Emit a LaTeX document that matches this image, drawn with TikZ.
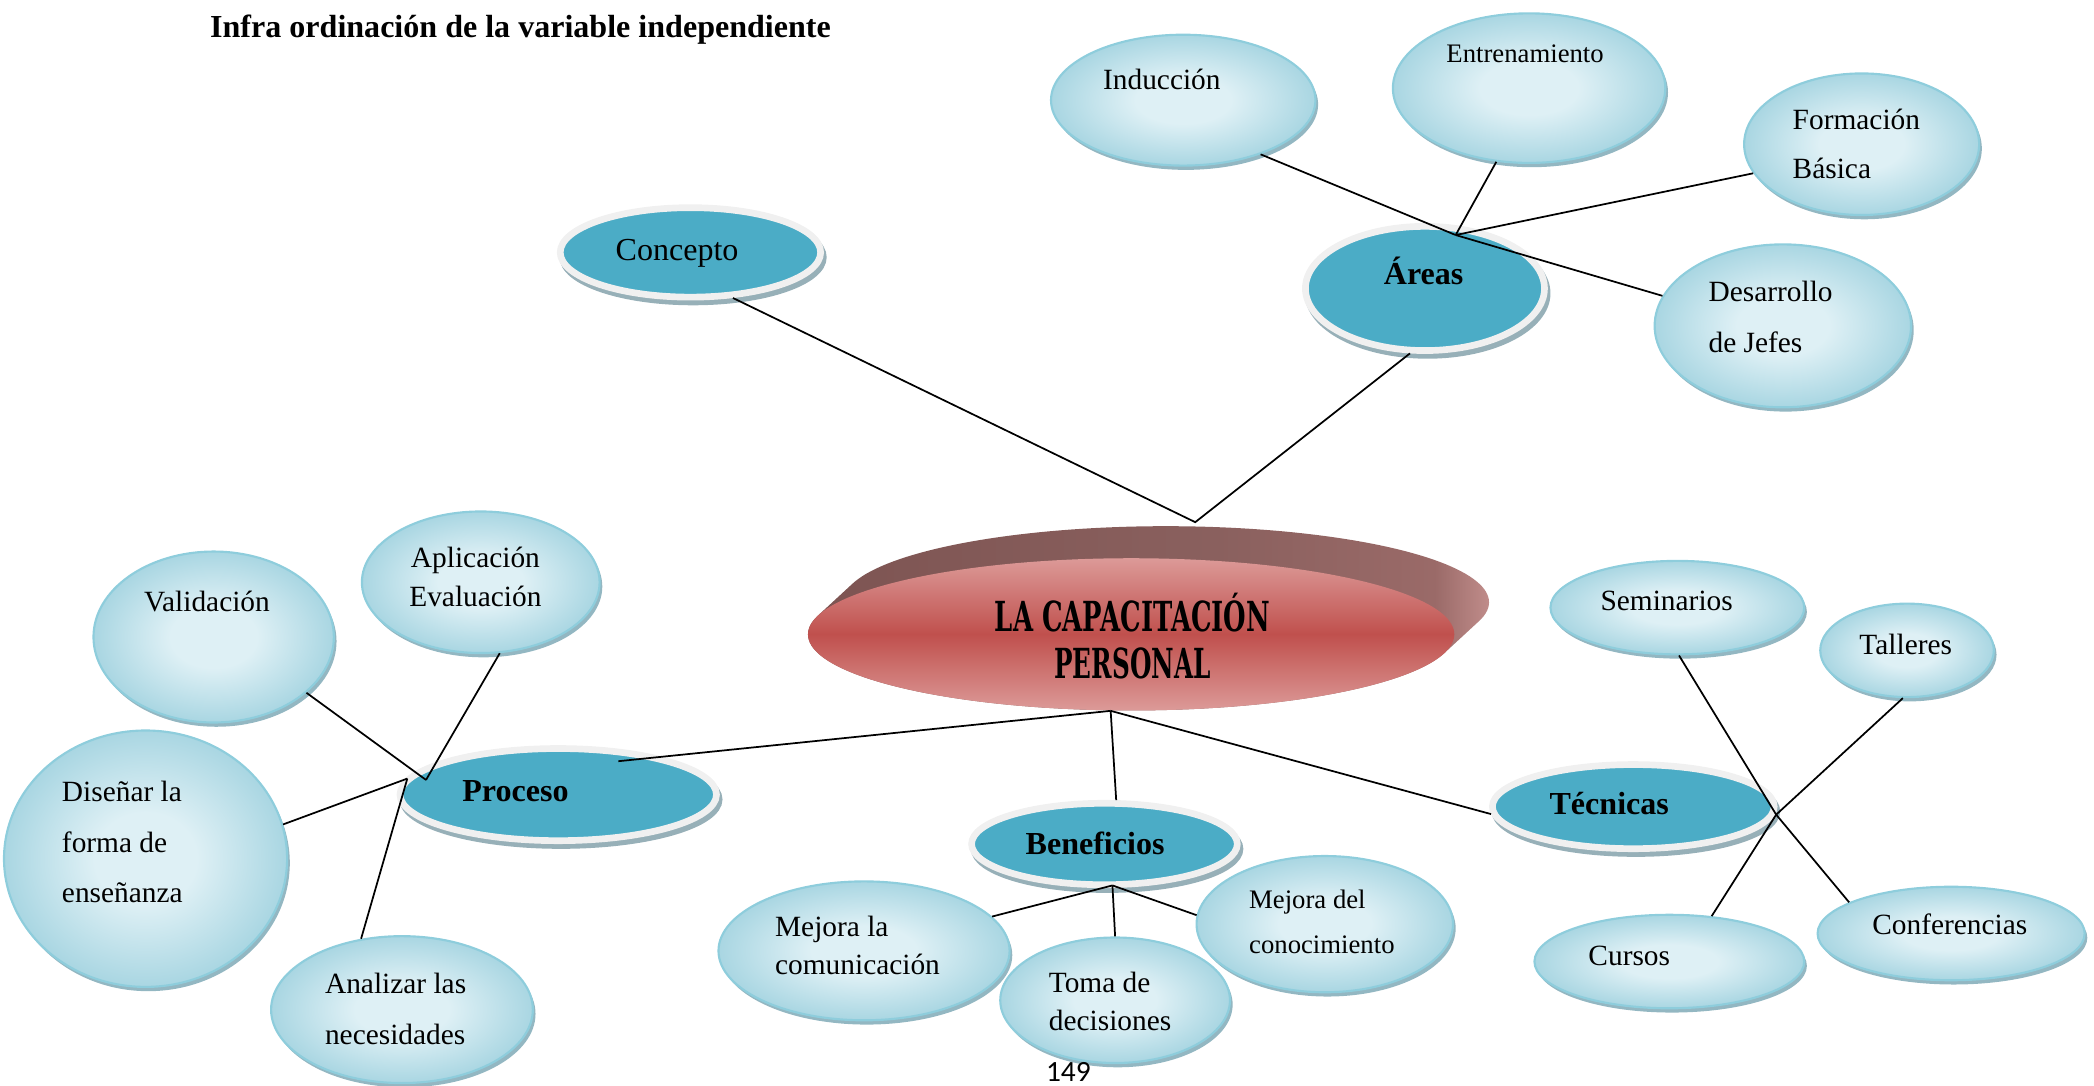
\documentclass[tikz,border=0pt]{standalone}
\usepackage{fontspec}
\setmainfont{Liberation Serif}
\newfontfamily\numfont{Carlito}
\newfontfamily\discfont{DejaVu Serif}
\usetikzlibrary{shapes.geometric}

\definecolor{lbin}{HTML}{DEF0F5}
\definecolor{lbout}{HTML}{A9D6E2}
\definecolor{lbline}{HTML}{8ECDDC}
\definecolor{lbshadow}{HTML}{93B7C2}
\definecolor{catblue}{HTML}{4BACC6}
\definecolor{catrim}{HTML}{F0F0F0}
\definecolor{catshadow}{HTML}{97B0B8}
\definecolor{bandleft}{HTML}{7D5452}
\definecolor{bandmid}{HTML}{8A605E}
\definecolor{bandlate}{HTML}{9A6A68}
\definecolor{bandright}{HTML}{C08C8A}
\definecolor{discedge}{HTML}{DC9A98}
\definecolor{disccore}{HTML}{C0504D}

\pgfdeclareradialshading{bubbleshade}{\pgfpoint{0bp}{0bp}}{color(0bp)=(lbin); color(9bp)=(lbin); color(25bp)=(lbout); color(50bp)=(lbout)}
\pgfdeclarehorizontalshading{bandshade}{100bp}{color(0bp)=(bandleft); color(25bp)=(bandleft); color(55bp)=(bandmid); color(71bp)=(bandlate); color(75bp)=(bandright); color(100bp)=(bandright)}

\tikzset{
  bubble/.style 2 args={ellipse, inner sep=0pt, minimum width=#1pt, minimum height=#2pt,
    shade, shading=bubbleshade, draw=lbline, line width=0.8pt,
    preaction={fill=lbshadow, transform canvas={shift={(1pt,-1.6pt)}}}},
  cat/.style 2 args={ellipse, inner sep=0pt, minimum width=#1pt, minimum height=#2pt,
    fill=catblue, draw=catrim, line width=2.5pt,
    preaction={fill=catshadow, draw=catshadow, line width=2.5pt, transform canvas={shift={(1pt,-1.8pt)}}}},
  link/.style={draw=black, line width=0.65pt},
  lbl/.style={inner sep=0pt, font=\fontsize{11}{13}\selectfont},
  lblsmall/.style={inner sep=0pt, font=\fontsize{10}{12}\selectfont},
  catlbl/.style={inner sep=0pt, font=\fontsize{12}{14}\selectfont\bfseries},
  titlelbl/.style={inner sep=0pt, font=\fontsize{12}{14}\selectfont\bfseries},
  disclbl/.style={inner sep=0pt, font=\discfont\fontsize{15.5}{18}\selectfont\bfseries}
}

\begin{document}
\begin{tikzpicture}[x=0.5pt, y=-0.5pt]
\useasboundingbox (0,0) rectangle (1568,813);

% heading
\node[titlelbl, anchor=base west] (title) at (157,28) {Infra ordinación de la variable independiente};

% light bubbles
\node[bubble={99}{49}]  (ind)  at (886,75)   {};
\node[bubble={102}{56}] (ent)  at (1145,66)  {};
\node[bubble={88}{53}]  (for)  at (1394,108) {};
\node[bubble={96}{61}]  (des)  at (1335,244) {};
\node[bubble={90}{64}]  (val)  at (160,477)  {};
\node[bubble={89}{53}]  (apl)  at (360,436)  {};
\node[bubble={106}{96}] (dis)  at (109,643)  {};
\node[bubble={98}{55}]  (ana)  at (301,756)  {};
\node[bubble={109}{52}] (mcom) at (647,712)  {};
\node[bubble={86}{47}]  (tom)  at (835,749)  {};
\node[bubble={96}{51}]  (mcon) at (992,692)  {};
\node[bubble={95}{35}]  (sem)  at (1256,455) {};
\node[bubble={65}{35}]  (tal)  at (1428,487) {};
\node[bubble={100}{35}] (conf) at (1461,699) {};
\node[bubble={101}{35}] (cur)  at (1250,720) {};

% category ellipses
\node[cat={97.5}{33.5}]  (con) at (517,189)  {};
\node[cat={89.5}{46.5}]  (are) at (1067,216) {};
\node[cat={118.5}{34.5}] (pro) at (418,595)  {};
\node[cat={99.5}{30.5}]  (ben) at (827,632)  {};
\node[cat={105.5}{31.5}] (tec) at (1223,604) {};

% central disc: extruded band, then the face
\shade[shading=bandshade]
  plot[domain=165.68:-14.32, samples=90, variable=\t] ({873+242*cos(\t)}, {451-57*sin(\t)})
  -- plot[domain=-14.32:-194.32, samples=90, variable=\t] ({847+242*cos(\t)}, {475-57*sin(\t)})
  -- cycle;
\node[ellipse, inner sep=0pt, minimum width=242pt, minimum height=57pt,
      top color=discedge, bottom color=discedge, middle color=disccore] (cap) at (847,475) {};

% junction points
\coordinate (ct)  at (895,391);
\coordinate (cb)  at (cap.-105);
\coordinate (ja)  at (1090,176);
\coordinate (pin) at (463,570);
\coordinate (jp1) at (319,584);
\coordinate (jp2) at (305,583);
\coordinate (jb)  at (833,663);
\coordinate (jt)  at (1330,610);

% connectors
\draw[link] (con.-47) -- (ct) -- (are.-103);
\draw[link] (ind.-35) -- (ja);
\draw[link] (ent.-114) -- (ja);
\draw[link] (for.-165) -- (ja);
\draw[link] (ja) -- (des.166);
\draw[link] (cb) -- (pin);
\draw[link] (cb) -- (ben.75);
\draw[link] (cb) -- (tec.-177);
\draw[link] (val.-31) -- (jp1);
\draw[link] (apl.-75) -- (jp1);
\draw[link] (dis.14) -- (jp2);
\draw[link] (ana.120) -- (jp2);
\draw[link] (jb) -- (mcom.15);
\draw[link] (jb) -- (tom.90);
\draw[link] (jb) -- (mcon.176);
\draw[link] (sem.-88) -- (jt) -- (conf.163);
\draw[link] (tal.-95) -- (jt) -- (cur.47);

% central text
\node[disclbl, anchor=base] (capA) at (848,473) {\resizebox{103pt}{\height}{LA CAPACITACIÓN}};
\node[disclbl, anchor=base] (capB) at (848,508) {\resizebox{58.5pt}{\height}{PERSONAL}};

% category labels
\node[inner sep=0pt, font=\fontsize{12}{14}\selectfont, anchor=base] (conT) at (507,195) {Concepto};
\node[catlbl, anchor=base] (areT) at (1066,213) {Áreas};
\node[catlbl, anchor=base] (proT) at (386,600)  {Proceso};
\node[catlbl, anchor=base] (benT) at (820,640)  {Beneficios};
\node[catlbl, anchor=base] (tecT) at (1205,610) {Técnicas};

% bubble labels
\node[lbl, anchor=base] (indT) at (870,67) {Inducción};
\node[lblsmall, anchor=base] (entT) at (1142,47) {Entrenamiento};
\node[lbl, anchor=base west] (forT1) at (1342,97)  {Formación};
\node[lbl, anchor=base west] (forT2) at (1342,134) {Básica};
\node[lbl, anchor=base west] (desT1) at (1279,226) {Desarrollo};
\node[lbl, anchor=base west] (desT2) at (1279,264) {de Jefes};
\node[lbl, anchor=base] (valT) at (155,458) {Validación};
\node[lbl, anchor=base] (aplT1) at (356,425) {Aplicación};
\node[lbl, anchor=base] (aplT2) at (356,454) {Evaluación};
\node[lbl, anchor=base west] (disT1) at (46,600) {Diseñar la};
\node[lbl, anchor=base west] (disT2) at (46,638) {forma de};
\node[lbl, anchor=base west] (disT3) at (46,676) {enseñanza};
\node[lbl, anchor=base west] (anaT1) at (243,744) {Analizar las};
\node[lbl, anchor=base west] (anaT2) at (243,782) {necesidades};
\node[lbl, anchor=base west] (mcomT1) at (580,701) {Mejora la};
\node[lbl, anchor=base west] (mcomT2) at (580,730) {comunicación};
\node[lbl, anchor=base west] (tomT1) at (785,743) {Toma de};
\node[lbl, anchor=base west] (tomT2) at (785,772) {decisiones};
\node[lblsmall, anchor=base west] (mconT1) at (935,680) {Mejora del};
\node[lblsmall, anchor=base west] (mconT2) at (935,714) {conocimiento};
\node[lbl, anchor=base] (semT)  at (1248,457) {Seminarios};
\node[lbl, anchor=base] (talT)  at (1427,490) {Talleres};
\node[lbl, anchor=base] (confT) at (1460,700) {Conferencias};
\node[lbl, anchor=base] (curT)  at (1220,723) {Cursos};

% page number
\node[inner sep=0pt, font=\numfont\fontsize{11}{13}\selectfont, anchor=base] (page) at (800,810) {149};
\end{tikzpicture}
\end{document}
